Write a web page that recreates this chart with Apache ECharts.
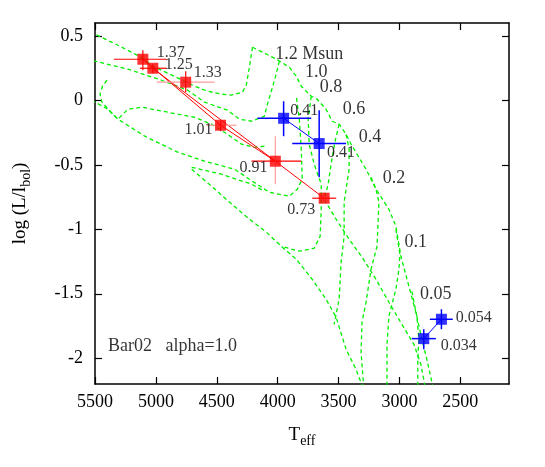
<!DOCTYPE html>
<html>
<head>
<meta charset="utf-8">
<title>Bar02 alpha=1.0</title>
<script src="https://cdn.jsdelivr.net/npm/echarts@6/dist/echarts.min.js"></script>
<style>
  html, body { margin: 0; padding: 0; background: #fff; }
  #chart { width: 545px; height: 467px; }
</style>
</head>
<body>
<div id="chart"></div>
<script>
// axis ticks
var xTicks = [2500, 3000, 3500, 4000, 4500, 5000, 5500];
var yTicks = [-2, -1.5, -1, -0.5, 0, 0.5];

// Bar02 model curves, [Teff, log L]
var track12 = [[4207,0.412],[4232,0.257],[4256,0.125],[4289,0.063],[4379,0.040],[4461,0.048],[4575,0.071],[4682,0.110],[4747,0.141],[5025,0.265],[5107,0.327],[5295,0.420],[5500,0.513],[5580,0.55]];
var envelope = [[4207,0.412],[4125,0.374],[4011,0.319],[3904,0.257],[3847,0.187],[3806,0.110],[3724,0.032],[3675,0.009],[3602,-0.069],[3552,-0.162],[3495,-0.185],[3438,-0.263],[3397,-0.340],[3348,-0.418],[3274,-0.534],[3192,-0.689],[3086,-0.845],[3029,-0.976],[2988,-1.209],[2922,-1.442],[2857,-1.674],[2816,-1.853],[2775,-2.008],[2718,-2.25]];
var track10 = [[3986,0.304],[4019,0.180],[4052,0.071],[4084,-0.030],[4109,-0.123],[4215,-0.162],[4313,-0.146],[4412,-0.076],[4600,-0.014],[4739,0.079],[4952,0.156],[5230,0.242],[5500,0.304],[5580,0.33]];
var loopLine = [[4109,-0.356],[4191,-0.364],[4297,-0.340],[4412,-0.263],[4543,-0.185],[4682,-0.131],[4821,-0.107],[5115,-0.053],[5230,-0.069],[5312,-0.146],[5377,-0.084],[5443,-0.014],[5459,0.048],[5435,0.118],[5394,0.164]];
var track08 = [[5580,0.024],[5500,-0.014],[5394,-0.069],[5312,-0.146],[5091,-0.278],[4821,-0.402],[4600,-0.472],[4354,-0.534],[4232,-0.612],[4068,-0.713],[3904,-0.744],[3839,-0.689],[3798,-0.612],[3806,-0.379],[3822,-0.146],[3847,0.032]];
var isoA = [[4706,-0.534],[4543,-0.666],[4395,-0.790],[4232,-0.922],[4092,-1.023],[3970,-1.132],[3847,-1.232],[3716,-1.388],[3602,-1.543],[3520,-1.682],[3438,-1.931],[3356,-2.086],[3291,-2.25]];
var isoB = [[4706,-0.519],[4461,-0.573],[4215,-0.650],[4109,-0.705]];
var track06 = [[3724,0.032],[3749,-0.146],[3741,-0.340],[3700,-0.495],[3642,-0.650],[3642,-0.845],[3651,-1.054],[3700,-1.147],[3822,-1.170],[3970,-1.132]];
var track04 = [[3438,-0.263],[3413,-0.379],[3413,-0.534],[3438,-0.689],[3454,-0.790],[3454,-1.054],[3479,-1.256],[3495,-1.543],[3536,-1.737]];
var isoC = [[3495,-0.185],[3528,-0.317],[3561,-0.495],[3585,-0.650],[3618,-0.767],[3520,-0.922],[3413,-1.077],[3307,-1.217],[3192,-1.388],[3086,-1.566],[2980,-1.737],[2881,-1.892],[2824,-2.047],[2783,-2.25]];
var track02 = [[3233,-0.596],[3192,-0.689],[3168,-0.790],[3184,-1.132],[3233,-1.310],[3274,-1.566],[3307,-1.721],[3315,-1.954],[3291,-2.25]];
var track01 = [[3029,-1.000],[2996,-1.194],[3004,-1.310],[3029,-1.465],[3086,-1.674],[3102,-1.892],[3102,-2.25]];
var track005 = [[2898,-1.481],[2857,-1.674],[2840,-1.853],[2849,-2.008],[2849,-2.25]];
var greenCurves = [track12, envelope, track10, loopLine, track08, isoA, isoB, track06, track04, isoC, track02, track01, track005];

// red stars
var redNames = ['1.37', '1.25', '1.33', '1.01', '0.91', '0.73'];
var redTeff = [5107, 5025, 4755, 4469, 4019, 3618];
var redLogL = [0.319, 0.249, 0.141, -0.193, -0.472, -0.759];
var redTeffLo = [5345, 5132, 4993, 4584, 4215, 3716];
var redTeffHi = [4911, 4911, 4518, 4338, 3806, 3519];
var redLogLHi = [0.389, 0.280, 0.226, -0.162, -0.278, -0.713];
var redLogLLo = [0.234, 0.211, 0.063, -0.239, -0.651, -0.793];
var redLabelTeff = [4878, 4813, 4575, 4649, 4199, 3806];
var redLabelLogL = [0.366, 0.273, 0.211, -0.232, -0.526, -0.845];
var redPaths = [[0, 3, 4, 5], [1, 4]];

// blue stars
var blueNames = ['0.41', '0.41', '0.054', '0.034'];
var blueTeff = [3951, 3659, 2655, 2800];
var blueLogL = [-0.139, -0.335, -1.698, -1.848];
var blueTeffLo = [4166, 3880, 2750, 2898];
var blueTeffHi = [3724, 3438, 2562, 2701];
var blueLogLHi = [-0.007, -0.076, -1.62, -1.775];
var blueLogLLo = [-0.278, -0.596, -1.775, -1.93];
var blueLabelTeff = [3782, 3479, 2390, 2513];
var blueLabelLogL = [-0.084, -0.410, -1.69, -1.907];
var bluePaths = [[0, 1], [2, 3]];

// mass labels of the tracks
var massNames = ['1.2 Msun', '1.0', '0.8', '0.6', '0.4', '0.2', '0.1', '0.05'];
var massTeff = [3741, 3683, 3561, 3372, 3241, 3045, 2865, 2701];
var massLogL = [0.358, 0.218, 0.102, -0.069, -0.286, -0.604, -1.101, -1.504];

var FONT = '"Liberation Serif", "DejaVu Serif", serif';
var GREEN = '#00f000';
var RED = '#ff0000';
var PINK = '#ff9c9c';
var BLUE = '#0000ff';
var redHColors = [RED, RED, PINK, PINK, RED, RED];
var redVColors = [RED, RED, RED, RED, PINK, PINK];

var chart = echarts.init(document.getElementById('chart'));

function errorBars(teff, logL, tLo, tHi, lHi, lLo, hColors, vColors, width) {
  return {
    type: 'custom',
    z: 5,
    silent: true,
    data: teff.map(function (t, i) { return [t, logL[i], tLo[i], tHi[i], lHi[i], lLo[i]]; }),
    encode: { x: 0, y: 1 },
    renderItem: function (params, api) {
      var i = params.dataIndex;
      var h0 = api.coord([api.value(2), api.value(1)]);
      var h1 = api.coord([api.value(3), api.value(1)]);
      var v0 = api.coord([api.value(0), api.value(4)]);
      var v1 = api.coord([api.value(0), api.value(5)]);
      return {
        type: 'group',
        children: [
          { type: 'line', shape: { x1: h0[0], y1: h0[1], x2: h1[0], y2: h1[1] }, style: { stroke: hColors[i], lineWidth: width } },
          { type: 'line', shape: { x1: v0[0], y1: v0[1], x2: v1[0], y2: v1[1] }, style: { stroke: vColors[i], lineWidth: width } }
        ]
      };
    }
  };
}

function pathSeries(paths, teff, logL, color) {
  return paths.map(function (p) {
    return {
      type: 'line',
      z: 4,
      silent: true,
      showSymbol: false,
      data: p.map(function (k) { return [teff[k], logL[k]]; }),
      lineStyle: { color: color, width: 1 }
    };
  });
}

function points(teff, logL, color) {
  return {
    type: 'scatter',
    z: 6,
    silent: true,
    symbol: 'rect',
    symbolSize: 11,
    itemStyle: { color: color },
    data: teff.map(function (t, i) { return [t, logL[i]]; })
  };
}

function textSeries(names, teff, logL, size, align) {
  return {
    type: 'scatter',
    z: 7,
    silent: true,
    symbolSize: 0,
    data: teff.map(function (t, i) { return [t, logL[i], names[i]]; }),
    label: {
      show: true,
      position: 'inside',
      align: align || 'center',
      verticalAlign: 'middle',
      color: '#000',
      fontFamily: FONT,
      fontSize: size,
      formatter: function (p) { return p.data[2]; }
    }
  };
}

var series = [];
greenCurves.forEach(function (c) {
  series.push({
    type: 'line',
    z: 2,
    silent: true,
    showSymbol: false,
    clip: true,
    data: c,
    lineStyle: { color: GREEN, width: 1.3, type: [4, 3] }
  });
});
series = series.concat(pathSeries(redPaths, redTeff, redLogL, RED));
series = series.concat(pathSeries(bluePaths, blueTeff, blueLogL, BLUE));
series.push(errorBars(redTeff, redLogL, redTeffLo, redTeffHi, redLogLHi, redLogLLo, redHColors, redVColors, 1.2));
series.push(errorBars(blueTeff, blueLogL, blueTeffLo, blueTeffHi, blueLogLHi, blueLogLLo,
  [BLUE, BLUE, BLUE, BLUE], [BLUE, BLUE, BLUE, BLUE], 1.5));
series.push(points(redTeff, redLogL, RED));
series.push(points(blueTeff, blueLogL, BLUE));
series.push(textSeries(redNames, redLabelTeff, redLabelLogL, 16));
series.push(textSeries(blueNames, blueLabelTeff, blueLabelLogL, 16));
series.push(textSeries(massNames, massTeff, massLogL, 18));
series.push(textSeries(['Bar02   alpha=1.0'], [5394], [-1.907], 18, 'left'));

var axisLine = { show: true, onZero: false, lineStyle: { color: '#000', width: 1.5 } };
var plain = function (v) { return String(v); };

chart.setOption({
  animation: false,
  backgroundColor: '#fff',
  textStyle: { fontFamily: FONT },
  grid: { left: 95, right: 36, top: 23, bottom: 83 },
  xAxis: [{
    type: 'value',
    position: 'bottom',
    min: 2100,
    max: 5500,
    inverse: true,
    splitLine: { show: false },
    axisLine: axisLine,
    axisTick: { inside: true, length: 7, customValues: xTicks, lineStyle: { color: '#000', width: 1.2 } },
    axisLabel: { customValues: xTicks, formatter: plain, margin: 9, color: '#000', fontFamily: FONT, fontSize: 18 },
    name: '{a|T}{b|eff}',
    nameLocation: 'middle',
    nameGap: 42,
    nameTextStyle: {
      rich: {
        a: { fontFamily: FONT, fontSize: 19, color: '#000', verticalAlign: 'top' },
        b: { fontFamily: FONT, fontSize: 14, color: '#000', verticalAlign: 'top', padding: [8, 0, 0, 0] }
      }
    }
  }, {
    type: 'value',
    position: 'top',
    min: 2100,
    max: 5500,
    inverse: true,
    splitLine: { show: false },
    axisLine: axisLine,
    axisTick: { inside: true, length: 7, customValues: xTicks, lineStyle: { color: '#000', width: 1.2 } },
    axisLabel: { show: false }
  }],
  yAxis: [{
    type: 'value',
    position: 'left',
    min: -2.2,
    max: 0.6,
    splitLine: { show: false },
    axisLine: axisLine,
    axisTick: { inside: true, length: 7, customValues: yTicks, lineStyle: { color: '#000', width: 1.2 } },
    axisLabel: { customValues: yTicks, formatter: plain, margin: 12, color: '#000', fontFamily: FONT, fontSize: 18 },
    name: '{a|log (L/l}{b|bol}{a|)}',
    nameLocation: 'middle',
    nameRotate: 90,
    nameGap: 62,
    nameTextStyle: {
      rich: {
        a: { fontFamily: FONT, fontSize: 19, color: '#000', verticalAlign: 'top' },
        b: { fontFamily: FONT, fontSize: 14, color: '#000', verticalAlign: 'top', padding: [8, 0, 0, 0] }
      }
    }
  }, {
    type: 'value',
    position: 'right',
    min: -2.2,
    max: 0.6,
    splitLine: { show: false },
    axisLine: axisLine,
    axisTick: { inside: true, length: 7, customValues: yTicks, lineStyle: { color: '#000', width: 1.2 } },
    axisLabel: { show: false }
  }],
  series: series
});
</script>
</body>
</html>
